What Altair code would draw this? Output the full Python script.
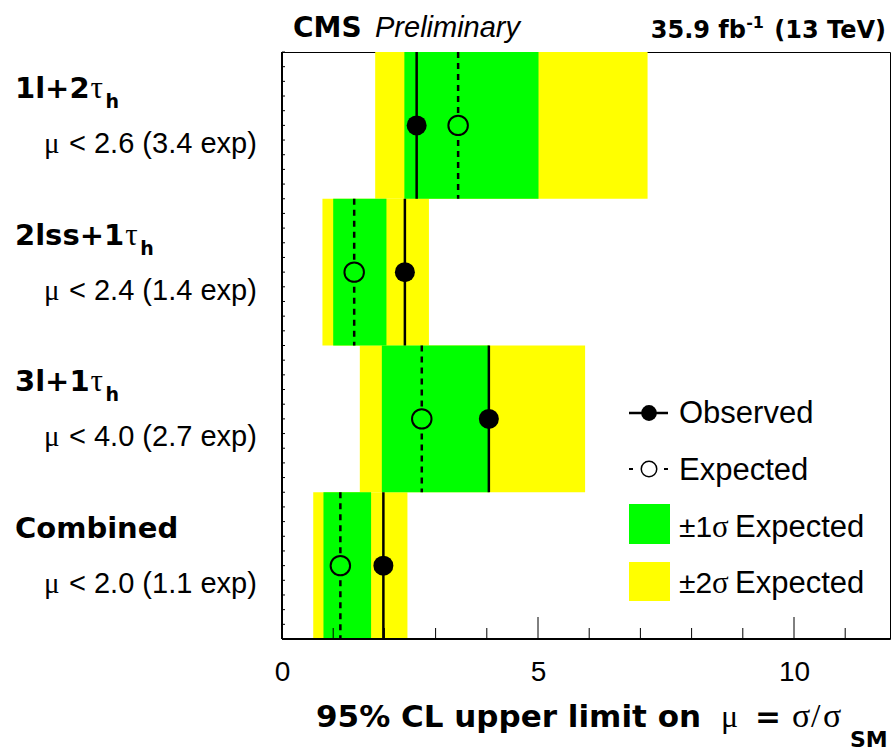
import altair as alt
import pandas as pd

# ---- data -------------------------------------------------------------
channels = ["1l+2", "2lss+1", "3l+1", "Combined"]
has_tau = [True, True, True, False]
observed = [2.63, 2.40, 4.04, 1.98]
expected = [3.44, 1.41, 2.73, 1.14]
one_sigma_lo = [2.39, 1.00, 1.95, 0.81]
one_sigma_hi = [5.01, 2.04, 4.04, 1.74]
two_sigma_lo = [1.82, 0.79, 1.52, 0.61]
two_sigma_hi = [7.14, 2.87, 5.92, 2.45]
x_major_ticks = [0, 5, 10]
x_minor_ticks = [1, 2, 3, 4, 6, 7, 8, 9, 11]
x_max = 11.875

# ---- layout -----------------------------------------------------------
W, H = 608, 587          # plot area
PAD_L, PAD_T = 282, 52   # plot origin on the page
BOLD = "DejaVu Sans"
SANS = "Liberation Sans"
SERIF = "Liberation Serif"
YELLOW = "#ffff00"
GREEN = "#00ff00"

# advance widths (em) of DejaVu Sans Bold, used to place the tau subscript
BOLD_EM = {"1": 0.696, "2": 0.696, "3": 0.696, "l": 0.343, "s": 0.595, "+": 0.838}
CAT_SIZE = 29


def text_width(s, size):
    return sum(BOLD_EM.get(c, 0.7) for c in s) * size


rows = []
for i, name in enumerate(channels):
    tx = 15 + text_width(name, CAT_SIZE) + 1 - PAD_L
    rows.append({
        "row": i, "row_end": i + 1, "mid": i + 0.5,
        "name": name, "tau": has_tau[i],
        "obs": observed[i], "exp": expected[i],
        "lo1": one_sigma_lo[i], "hi1": one_sigma_hi[i],
        "lo2": two_sigma_lo[i], "hi2": two_sigma_hi[i],
        "limit": f"< {observed[i]:.1f} ({expected[i]:.1f} exp)",
        "tau_x": tx, "h_x": tx + 15,
    })
df = pd.DataFrame(rows)
one = pd.DataFrame({"k": [0]})

xscale = alt.Scale(domain=[0, x_max], nice=False, zero=False)
yscale = alt.Scale(domain=[0, 4], reverse=True, nice=False, zero=False)
xaxis = alt.Axis(values=x_major_ticks, domain=False, ticks=False, tickSize=0, grid=False,
                 labelFont=SANS, labelFontSize=28, labelColor="black", labelPadding=19,
                 labelFlush=False, labelOverlap=False, labelBound=False, format="d", title=None)

base = alt.Chart(df)

band2 = base.mark_rect(color=YELLOW).encode(
    x=alt.X("lo2:Q", scale=xscale, axis=xaxis), x2="hi2:Q",
    y=alt.Y("row:Q", scale=yscale, axis=None), y2="row_end:Q")
band1 = base.mark_rect(color=GREEN).encode(
    x=alt.X("lo1:Q"), x2="hi1:Q", y="row:Q", y2="row_end:Q")
obs_line = base.mark_rule(color="black", strokeWidth=2.5).encode(
    x="obs:Q", y="row:Q", y2="row_end:Q")
exp_line = base.mark_rule(color="black", strokeWidth=2.5, strokeDash=[6, 5]).encode(
    x="exp:Q", y="row:Q", y2="row_end:Q")
obs_pt = base.mark_point(shape="circle", filled=True, fill="black", stroke="black",
                         strokeWidth=0, size=400, opacity=1).encode(x="obs:Q", y="mid:Q")
exp_pt = base.mark_point(shape="circle", filled=True, fill=GREEN, stroke="black",
                         strokeWidth=2, size=380, opacity=1).encode(x="exp:Q", y="mid:Q")

# inward ticks and heavier left/bottom axis lines
minor_x = alt.Chart(pd.DataFrame({"v": x_minor_ticks})).mark_rule(color="black", strokeWidth=1).encode(
    x="v:Q", y=alt.value(H), y2=alt.value(H - 11))
major_x = alt.Chart(pd.DataFrame({"v": x_major_ticks})).mark_rule(color="black", strokeWidth=1).encode(
    x="v:Q", y=alt.value(H), y2=alt.value(H - 22))
y_ticks = [k / 10 for k in range(41)]
minor_y = alt.Chart(pd.DataFrame({"v": y_ticks})).mark_rule(color="black", strokeWidth=1).encode(
    y="v:Q", x=alt.value(0), x2=alt.value(3))
left_axis = alt.Chart(one).mark_rule(color="black", strokeWidth=2).encode(
    x=alt.value(0), y=alt.value(0), y2=alt.value(H))
bottom_axis = alt.Chart(one).mark_rule(color="black", strokeWidth=2).encode(
    x=alt.value(0), x2=alt.value(W), y=alt.value(H))

# channel names and limits on the left
cat_name = base.mark_text(font=BOLD, fontSize=CAT_SIZE, fontWeight="bold", align="left",
                          baseline="alphabetic", dy=-27.5, color="black").encode(
    x=alt.value(15 - PAD_L), y="mid:Q", text="name:N")
cat_tau = base.transform_filter("datum.tau").mark_text(
    text="τ", font=SERIF, fontSize=31, align="left", baseline="alphabetic", dy=-27.5,
    color="black").encode(x=alt.X("tau_x:Q", scale=None), y="mid:Q")
cat_h = base.transform_filter("datum.tau").mark_text(
    text="h", font=BOLD, fontSize=19, fontWeight="bold", align="left", baseline="alphabetic",
    dy=-17.5, color="black").encode(x=alt.X("h_x:Q", scale=None), y="mid:Q")
lim_mu = base.mark_text(text="μ", font=SERIF, fontSize=29, align="left", baseline="alphabetic",
                        dy=27.5, color="black").encode(x=alt.value(44 - PAD_L), y="mid:Q")
lim_txt = base.mark_text(font=SANS, fontSize=29, align="left", baseline="alphabetic",
                         dy=27.5, color="black").encode(
    x=alt.value(69 - PAD_L), y="mid:Q", text="limit:N")


def label(s, x, y, font=SANS, size=30, weight="normal", style="normal", align="left"):
    return alt.Chart(one).mark_text(text=s, font=font, fontSize=size, fontWeight=weight,
                                    fontStyle=style, align=align, baseline="alphabetic",
                                    color="black").encode(
        x=alt.value(x - PAD_L), y=alt.value(y - PAD_T))


def box(x1, x2, y1, y2, color):
    return alt.Chart(one).mark_rect(color=color).encode(
        x=alt.value(x1 - PAD_L), x2=alt.value(x2 - PAD_L),
        y=alt.value(y1 - PAD_T), y2=alt.value(y2 - PAD_T))


def seg(x1, x2, y, width=2.5, dash=None):
    kw = {"strokeDash": dash} if dash else {}
    return alt.Chart(one).mark_rule(color="black", strokeWidth=width, **kw).encode(
        x=alt.value(x1 - PAD_L), x2=alt.value(x2 - PAD_L), y=alt.value(y - PAD_T))


def dot(x, y, fill, size, sw):
    return alt.Chart(one).mark_point(shape="circle", filled=True, fill=fill, stroke="black",
                                     strokeWidth=sw, size=size, opacity=1).encode(
        x=alt.value(x - PAD_L), y=alt.value(y - PAD_T))


texts = [
    # header
    label("CMS", 293, 37, font=BOLD, size=28, weight="bold"),
    label("Preliminary", 375, 37, size=29, style="italic"),
    label("35.9 fb", 746, 38, font=BOLD, size=24, weight="bold", align="right"),
    label("-1", 764, 28, font=BOLD, size=16, weight="bold", align="right"),
    label("(13 TeV)", 886, 38, font=BOLD, size=24, weight="bold", align="right"),
    # x-axis title
    label("95% CL upper limit on", 316, 727, font=BOLD, size=31, weight="bold"),
    label("μ", 721, 727, font=SERIF, size=32),
    label("=", 755, 727, font=BOLD, size=31, weight="bold"),
    label("σ", 792, 727, font=SERIF, size=34),
    label("/", 811, 727, font=SERIF, size=34),
    label("σ", 823, 727, font=SERIF, size=34),
    label("SM", 850, 747, font=BOLD, size=22, weight="bold"),
]

legend = [
    seg(629, 668, 413),
    dot(649, 413, "black", 250, 0),
    label("Observed", 679, 423, size=31),
    seg(629, 668, 469, width=2, dash=[4, 31]),
    dot(649, 469, "white", 240, 1.5),
    label("Expected", 679, 480, size=31),
    box(629, 670, 504, 544, GREEN),
    label("±1", 679, 537, size=30),
    label("σ", 712, 537, font=SERIF, size=31),
    label("Expected", 735, 537, size=31),
    box(629, 670, 562, 601, YELLOW),
    label("±2", 679, 593, size=30),
    label("σ", 712, 593, font=SERIF, size=31),
    label("Expected", 735, 593, size=31),
]

chart = alt.layer(
    band2, band1, obs_line, exp_line, obs_pt, exp_pt,
    minor_x, major_x, minor_y, left_axis, bottom_axis,
    cat_name, cat_tau, cat_h, lim_mu, lim_txt,
    *texts, *legend,
).properties(
    width=W, height=H,
    autosize=alt.AutoSizeParams(type="none"),
    padding={"left": PAD_L, "top": PAD_T, "right": 1, "bottom": 114},
    background="white",
).configure_view(stroke="black", strokeWidth=1)

chart.save("out.html", embed_options={"renderer": "svg", "actions": False})
